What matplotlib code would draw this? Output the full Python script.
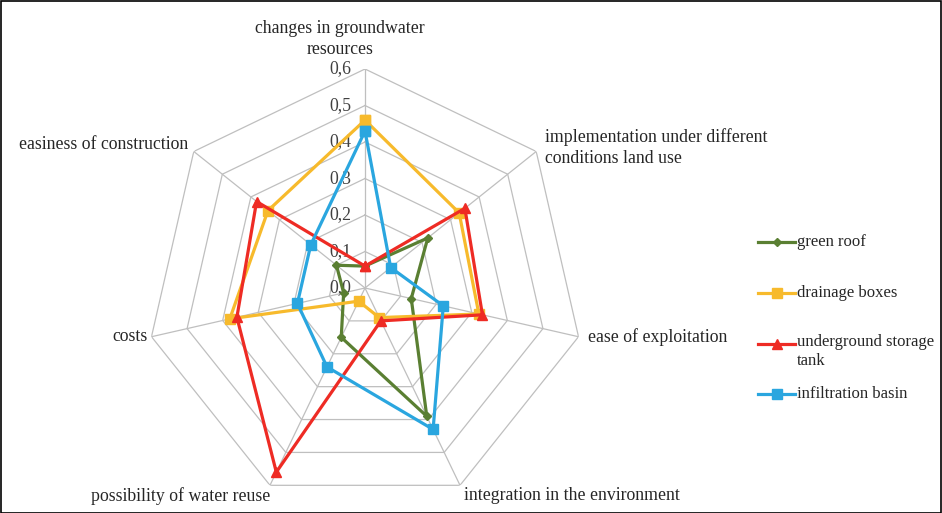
import numpy as np
import matplotlib
matplotlib.use("Agg")
import matplotlib.pyplot as plt
from matplotlib import transforms
from matplotlib.lines import Line2D
from matplotlib.patches import Rectangle

categories = ["changes in groundwater\nresources",
              "implementation under different\nconditions land use",
              "ease of exploitation",
              "integration in the environment",
              "possibility of water reuse",
              "costs",
              "easiness of construction"]
series_names = ["green roof", "drainage boxes", "underground storage\ntank", "infiltration basin"]
green_roof = [0.06, 0.22, 0.13, 0.39, 0.15, 0.06, 0.10]
drainage_boxes = [0.46, 0.33, 0.32, 0.09, 0.04, 0.38, 0.34]
underground_tank = [0.06, 0.35, 0.33, 0.10, 0.56, 0.36, 0.38]
infiltration_basin = [0.43, 0.09, 0.22, 0.43, 0.24, 0.19, 0.19]
ring_values = [0.0, 0.1, 0.2, 0.3, 0.4, 0.5, 0.6]
ring_labels = ["0,0", "0,1", "0,2", "0,3", "0,4", "0,5", "0,6"]

colors = ["#5A7F32", "#F7BA2C", "#EE2B24", "#2AA6DF"]
markers = ["D", "s", "^", "s"]
msizes = [4, 6.5, 7, 6.5]

plt.rcParams['font.family'] = ['Liberation Serif', 'DejaVu Serif']
FS = 12.8
LFS = 12.0

W, H = 942, 513
fig = plt.figure(figsize=(W / 100, H / 100), dpi=100)
cx, cy, R = 365, 288, 219
ax = fig.add_axes([(cx - R) / W, (H - cy - R) / H, 2 * R / W, 2 * R / H], projection='polar')
ax.set_theta_offset(np.pi / 2)
ax.set_theta_direction(-1)
ax.set_ylim(0, 0.6)
ax.grid(False)
ax.spines['polar'].set_visible(False)
ax.set_xticks([])
ax.set_yticks([])
ax.patch.set_alpha(0)

n = len(categories)
angles = np.arange(n) * 2 * np.pi / n
closed = np.concatenate([angles, angles[:1]])

gc = "#BFBFBF"
for r in ring_values[1:]:
    ax.plot(closed, [r] * (n + 1), color=gc, lw=0.9, zorder=1)
for a in angles:
    ax.plot([a, a], [0, 0.6], color=gc, lw=0.9, zorder=1)

all_series = [green_roof, drainage_boxes, underground_tank, infiltration_basin]
for vals, c, m, ms in zip(all_series, colors, markers, msizes):
    v = list(vals) + [vals[0]]
    ax.plot(closed, v, color=c, lw=2.3, marker=m, markersize=ms, zorder=3, clip_on=False)

# radial tick labels
for r, lab in zip(ring_values, ring_labels):
    tr = transforms.offset_copy(ax.transData, fig=fig, x=-10, y=0, units='points')
    ax.text(0, r, lab, transform=tr, ha='right', va='center', fontsize=FS, color='#404040', zorder=2)

# category labels
label_cfg = [
    dict(dx=-18, dy=8, ha='center', va='bottom'),
    dict(dx=6, dy=3, ha='left', va='center'),
    dict(dx=7, dy=0, ha='left', va='center'),
    dict(dx=3, dy=-1, ha='left', va='top'),
    dict(dx=0, dy=-1, ha='right', va='top'),
    dict(dx=-3, dy=0, ha='right', va='center'),
    dict(dx=-4, dy=5, ha='right', va='center'),
]
for a, lab, cfg in zip(angles, categories, label_cfg):
    tr = transforms.offset_copy(ax.transData, fig=fig, x=cfg['dx'], y=cfg['dy'], units='points')
    ax.text(a, 0.6, lab, transform=tr, ha=cfg['ha'], va=cfg['va'], fontsize=FS,
            color='#262626', multialignment='center' if cfg['ha'] == 'center' else 'left',
            linespacing=1.3)

# legend (manual)
leg_y = [242, 293, 344, 394]
for y, name, c, m, ms in zip(leg_y, series_names, colors, markers, msizes):
    yf = 1 - y / H
    fig.add_artist(Line2D([758 / W, 795 / W], [yf, yf], color=c, lw=2.3, transform=fig.transFigure))
    fig.add_artist(Line2D([776.5 / W], [yf], color=c, marker=m, markersize=ms, transform=fig.transFigure))
    if '\n' in name:
        fig.text(797 / W, yf + 10 / H, name, ha='left', va='top', fontsize=LFS, color='#262626',
                 linespacing=1.25)
    else:
        fig.text(797 / W, yf, name, ha='left', va='center', fontsize=LFS, color='#262626')

fig.add_artist(Rectangle((0.5 / W, 0.5 / H), 1 - 1.5 / W, 1 - 1.5 / H, transform=fig.transFigure,
                         fill=False, edgecolor='black', lw=1.2))

fig.savefig("out.png", dpi=100)
